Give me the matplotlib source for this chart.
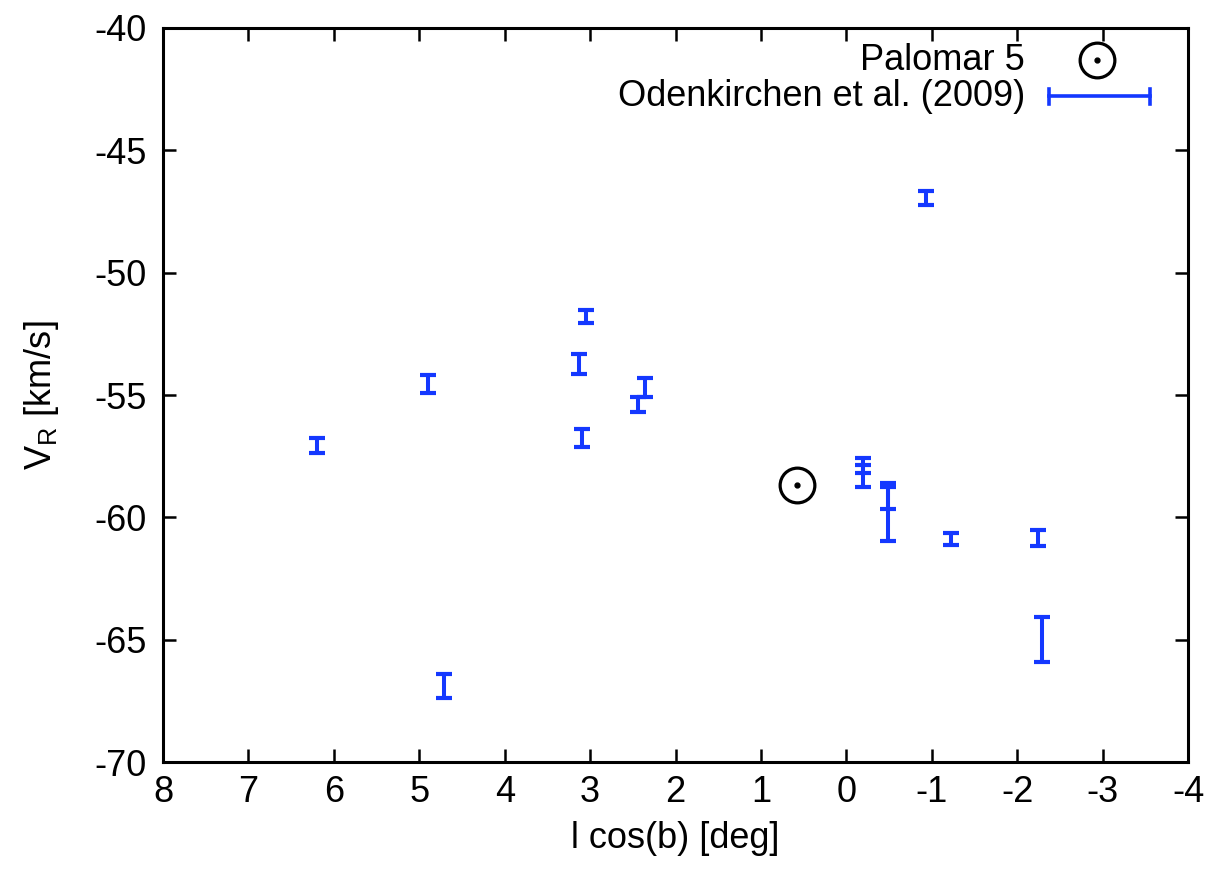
import numpy as np
import matplotlib
matplotlib.use("Agg")
import matplotlib.pyplot as plt

plt.rcParams['font.family'] = ['Liberation Sans', 'DejaVu Sans']
plt.rcParams['font.size'] = 26

# ---------------------------------------------------------------------------
# data: Odenkirchen et al. (2009) radial velocities along the Pal 5 tails
# ---------------------------------------------------------------------------
lcosb = [6.20, 4.90, 4.71, 3.13, 3.05, 3.09, 2.36, 2.44,
         -0.19, -0.19, -0.49, -0.49, -0.93, -1.23, -2.24, -2.29]
vr = [-57.05, -54.55, -66.89, -53.73, -51.79, -56.75, -54.70, -55.38,
      -57.88, -58.31, -59.12, -59.87, -46.94, -60.89, -60.84, -64.99]
vr_err = [0.31, 0.37, 0.49, 0.41, 0.27, 0.37, 0.38, 0.30,
          0.31, 0.45, 0.53, 1.10, 0.29, 0.24, 0.33, 0.91]

# cluster centre
pal5_x = [0.58]
pal5_v = [-58.68]

xticks = [8, 7, 6, 5, 4, 3, 2, 1, 0, -1, -2, -3, -4]
yticks = [-40, -45, -50, -55, -60, -65, -70]

BLUE = '#1438ff'

fig = plt.figure(figsize=(12.11, 8.74), dpi=100)
ax = fig.add_axes([0.1346, 0.128, 0.8465, 0.840])

ax.errorbar(lcosb, vr, yerr=vr_err, fmt='none', ecolor=BLUE,
            elinewidth=2.9, capsize=5.8, capthick=3.0)

ax.plot(pal5_x, pal5_v, 'o', ms=25, mfc='none', mec='black', mew=2.3)
ax.plot(pal5_x, pal5_v, 'o', ms=3.5, color='black')

# legend drawn by hand (gnuplot style key)
ax.text(0.841, 0.956, 'Palomar 5', transform=ax.transAxes,
        ha='right', va='center')
ax.plot([0.911], [0.956], 'o', ms=25, mfc='none', mec='black', mew=2.3,
        transform=ax.transAxes, clip_on=False)
ax.plot([0.911], [0.956], 'o', ms=3.5, color='black',
        transform=ax.transAxes, clip_on=False)
ax.text(0.841, 0.906, 'Odenkirchen et al. (2009)', transform=ax.transAxes,
        ha='right', va='center')
ax.plot([0.8645, 0.9625], [0.907, 0.907], '-', color=BLUE, lw=2.6,
        transform=ax.transAxes)
for xc in (0.8645, 0.9625):
    ax.plot([xc, xc], [0.897, 0.917], '-', color=BLUE, lw=2.6,
            transform=ax.transAxes)

ax.set_xlim(8, -4)
ax.set_ylim(-70, -40)
ax.set_xticks(xticks)
ax.set_xticklabels([str(t) for t in xticks])
ax.set_yticks(yticks)
ax.set_yticklabels([str(t) for t in yticks])

ax.tick_params(direction='in', length=9.5, width=1.8, top=True, right=True,
               labelsize=26)
ax.tick_params(axis='x', pad=9)
ax.tick_params(axis='y', pad=12)
for s in ax.spines.values():
    s.set_linewidth(2.2)

ax.set_xlabel('l cos(b) [deg]', fontsize=26, labelpad=8)
ax.set_ylabel(r'V$_\mathregular{R}$ [km/s]', fontsize=26, labelpad=24)

fig.savefig('out.png', dpi=100)
